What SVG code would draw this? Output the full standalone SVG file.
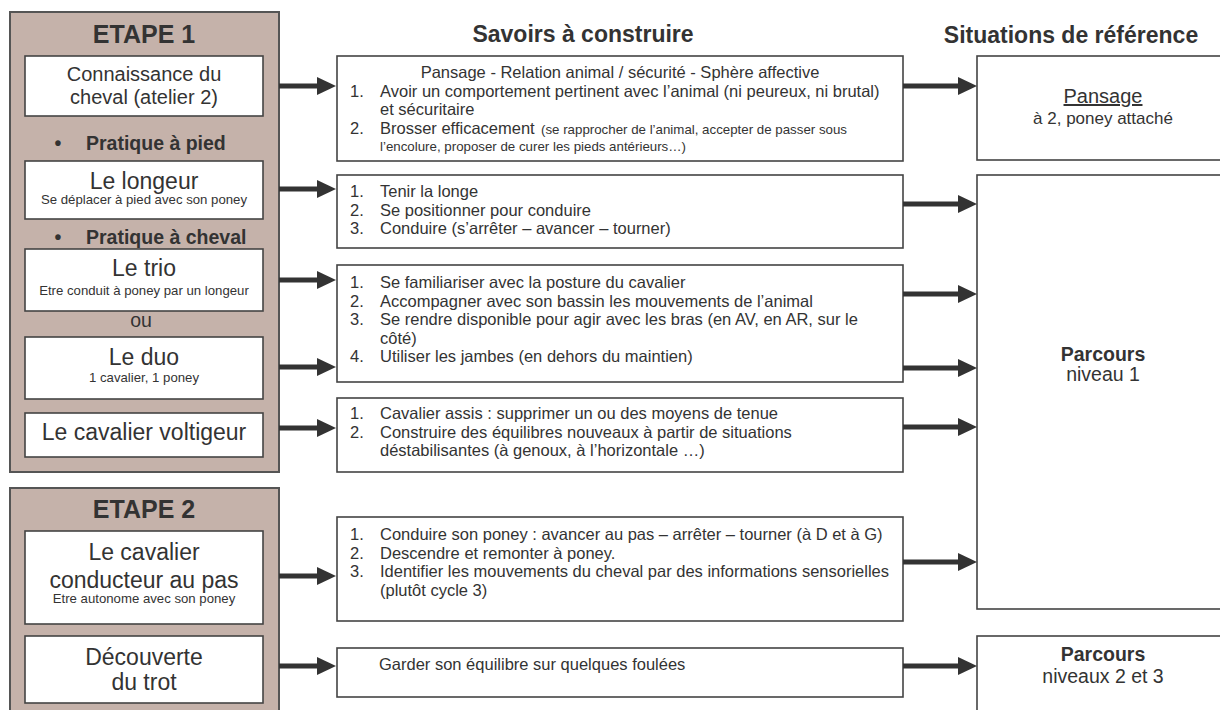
<svg xmlns="http://www.w3.org/2000/svg" width="1220" height="710" viewBox="0 0 1220 710">
<defs>
<style>
.stage{fill:#c5b2aa;stroke:#555;stroke-width:2}
.box{fill:#fff;stroke:#444;stroke-width:1.6}
text{font-family:"Liberation Sans",Arial,sans-serif;fill:#333}
.c{text-anchor:middle}
.etape{font-size:25px;font-weight:bold}
.head{font-size:23px;font-weight:bold}
.big{font-size:23px}
.mid{font-size:20px}
.bul{font-size:19.5px;font-weight:bold}
.sub{font-size:13.2px}
.item{font-size:16.5px}
.small{font-size:13.3px}
.ref{font-size:19.5px}
.conn{stroke:#333;stroke-width:5;fill:none;marker-end:url(#ah)}
</style>
<marker id="ah" viewBox="0 0 19 18" refX="2" refY="9" markerWidth="19" markerHeight="18" markerUnits="userSpaceOnUse" orient="auto">
<path d="M0,0 L19,9 L0,18 Z" fill="#333"/>
</marker>
</defs>
<rect x="0" y="0" width="1220" height="710" fill="#fff"/>

<!-- Column headers -->
<g id="headers">
<text class="head c" x="583" y="42">Savoirs à construire</text>
<text class="head c" x="1071" y="43">Situations de référence</text>
</g>

<!-- ETAPE 1 container -->
<g id="etape1">
<rect class="stage" x="10" y="12" width="269" height="460"/>
<text class="etape c" x="144" y="43">ETAPE 1</text>
<text class="bul c" x="58" y="150">•</text>
<text class="bul" x="86" y="150">Pratique à pied</text>
<text class="bul c" x="58" y="244">•</text>
<text class="bul" x="86" y="244">Pratique à cheval</text>
<text class="ref c" x="141" y="327">ou</text>
</g>

<g id="n-connaissance">
<rect class="box" x="25" y="56" width="238" height="60"/>
<text class="mid c" x="144" y="81">Connaissance du</text>
<text class="mid c" x="144" y="104">cheval (atelier 2)</text>
</g>
<g id="n-longeur">
<rect class="box" x="25" y="161" width="238" height="58"/>
<text class="big c" x="144" y="189">Le longeur</text>
<text class="sub c" x="144" y="204">Se déplacer à pied avec son poney</text>
</g>
<g id="n-trio">
<rect class="box" x="25" y="249" width="238" height="62"/>
<text class="big c" x="144" y="276">Le trio</text>
<text class="sub c" x="144" y="295">Etre conduit à poney par un longeur</text>
</g>
<g id="n-duo">
<rect class="box" x="25" y="337" width="238" height="62"/>
<text class="big c" x="144" y="365">Le duo</text>
<text class="sub c" x="144" y="382">1 cavalier, 1 poney</text>
</g>
<g id="n-voltigeur">
<rect class="box" x="25" y="413" width="238" height="44"/>
<text class="big c" x="144" y="440">Le cavalier voltigeur</text>
</g>

<!-- ETAPE 2 container -->
<g id="etape2">
<rect class="stage" x="10" y="488" width="269" height="232"/>
<text class="etape c" x="144" y="518">ETAPE 2</text>
</g>
<g id="n-conducteur">
<rect class="box" x="25" y="531" width="238" height="93"/>
<text class="big c" x="144" y="560">Le cavalier</text>
<text class="big c" x="144" y="588">conducteur au pas</text>
<text class="sub c" x="144" y="603">Etre autonome avec son poney</text>
</g>
<g id="n-trot">
<rect class="box" x="25" y="636" width="238" height="67"/>
<text class="big c" x="144" y="665">Découverte</text>
<text class="big c" x="144" y="690">du trot</text>
</g>

<!-- Savoirs -->
<g id="s-pansage">
<rect class="box" x="337" y="56" width="566" height="105"/>
<text class="item c" x="620" y="78">Pansage - Relation animal / sécurité - Sphère affective</text>
<text class="item" x="350" y="96.5">1.</text>
<text class="item" x="380" y="96.5">Avoir un comportement pertinent avec l’animal (ni peureux, ni brutal)</text>
<text class="item" x="380" y="115">et sécuritaire</text>
<text class="item" x="350" y="133.5">2.</text>
<text class="item" x="380" y="133.5">Brosser efficacement</text>
<text class="small" x="541" y="133.5">(se rapprocher de l’animal, accepter de passer sous</text>
<text class="small" x="380" y="151">l’encolure, proposer de curer les pieds antérieurs…)</text>
</g>
<g id="s-longe">
<rect class="box" x="337" y="175" width="566" height="73"/>
<text class="item" x="350" y="197">1.</text>
<text class="item" x="380" y="197">Tenir la longe</text>
<text class="item" x="350" y="215.5">2.</text>
<text class="item" x="380" y="215.5">Se positionner pour conduire</text>
<text class="item" x="350" y="234">3.</text>
<text class="item" x="380" y="234">Conduire (s’arrêter – avancer – tourner)</text>
</g>
<g id="s-posture">
<rect class="box" x="337" y="265" width="566" height="117"/>
<text class="item" x="350" y="288">1.</text>
<text class="item" x="380" y="288">Se familiariser avec la posture du cavalier</text>
<text class="item" x="350" y="306.5">2.</text>
<text class="item" x="380" y="306.5">Accompagner avec son bassin les mouvements de l’animal</text>
<text class="item" x="350" y="325">3.</text>
<text class="item" x="380" y="325">Se rendre disponible pour agir avec les bras (en AV, en AR, sur le</text>
<text class="item" x="380" y="343.5">côté)</text>
<text class="item" x="350" y="362">4.</text>
<text class="item" x="380" y="362">Utiliser les jambes (en dehors du maintien)</text>
</g>
<g id="s-equilibre">
<rect class="box" x="337" y="398" width="566" height="74"/>
<text class="item" x="350" y="419">1.</text>
<text class="item" x="380" y="419">Cavalier assis : supprimer un ou des moyens de tenue</text>
<text class="item" x="350" y="437.5">2.</text>
<text class="item" x="380" y="437.5">Construire des équilibres nouveaux à partir de situations</text>
<text class="item" x="380" y="456">déstabilisantes (à genoux, à l’horizontale …)</text>
</g>
<g id="s-conduire">
<rect class="box" x="337" y="517" width="566" height="104"/>
<text class="item" x="350" y="540">1.</text>
<text class="item" x="380" y="540">Conduire son poney : avancer au pas – arrêter – tourner (à D et à G)</text>
<text class="item" x="350" y="558.5">2.</text>
<text class="item" x="380" y="558.5">Descendre et remonter à poney.</text>
<text class="item" x="350" y="577">3.</text>
<text class="item" x="380" y="577">Identifier les mouvements du cheval par des informations sensorielles</text>
<text class="item" x="380" y="595.5">(plutôt cycle 3)</text>
</g>
<g id="s-trot">
<rect class="box" x="337" y="648" width="566" height="49"/>
<text class="item" x="379" y="670">Garder son équilibre sur quelques foulées</text>
</g>

<!-- Situations de reference -->
<g id="r-pansage">
<rect class="box" x="977" y="56" width="252" height="104"/>
<text class="mid c" x="1103" y="103" text-decoration="underline">Pansage</text>
<text class="item c" x="1103" y="124" style="font-size:17px">à 2, poney attaché</text>
</g>
<g id="r-parcours1">
<rect class="box" x="977" y="175" width="252" height="434"/>
<text class="ref c" x="1103" y="361" font-weight="bold">Parcours</text>
<text class="ref c" x="1103" y="381">niveau 1</text>
</g>
<g id="r-parcours23">
<rect class="box" x="977" y="636" width="252" height="90"/>
<text class="ref c" x="1103" y="661" font-weight="bold">Parcours</text>
<text class="ref c" x="1103" y="683">niveaux 2 et 3</text>
</g>

<!-- Connectors -->
<g id="connectors">
<line class="conn" x1="279" y1="86" x2="319" y2="86"/>
<line class="conn" x1="279" y1="189" x2="319" y2="189"/>
<line class="conn" x1="279" y1="280" x2="319" y2="280"/>
<line class="conn" x1="279" y1="367" x2="319" y2="367"/>
<line class="conn" x1="279" y1="428" x2="319" y2="428"/>
<line class="conn" x1="279" y1="576" x2="319" y2="576"/>
<line class="conn" x1="279" y1="666" x2="319" y2="666"/>
<line class="conn" x1="903" y1="86" x2="960" y2="86"/>
<line class="conn" x1="903" y1="204" x2="960" y2="204"/>
<line class="conn" x1="903" y1="294" x2="960" y2="294"/>
<line class="conn" x1="903" y1="368" x2="960" y2="368"/>
<line class="conn" x1="903" y1="427" x2="960" y2="427"/>
<line class="conn" x1="903" y1="562" x2="960" y2="562"/>
<line class="conn" x1="903" y1="666" x2="960" y2="666"/>
</g>
</svg>
